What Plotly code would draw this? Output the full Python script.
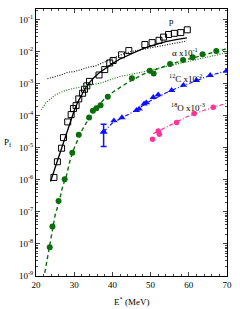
import plotly.graph_objects as go

# Proton data (open squares) and calculation (solid)
p_E = [24.7, 25.6, 26.7, 27.2, 28.3, 29.2, 29.8, 30.5, 31.2, 32.2, 32.7, 33.3, 34.0,
       36.5, 38.0, 39.3, 40.2, 42.4, 44.3, 48.5, 50.4, 52.2, 53.4, 54.7, 56.2, 57.9, 59.6]
p_P = [1.2e-6, 3.7e-6, 9.8e-6, 2.1e-5, 6.5e-5, 1.1e-4, 1.7e-4, 2.1e-4, 3.4e-4, 5.1e-4, 6.8e-4, 8.7e-4, 1.2e-3,
       1.9e-3, 2.8e-3, 4.5e-3, 5.4e-3, 8.1e-3, 1.1e-2, 1.7e-2, 1.95e-2, 2.3e-2, 2.9e-2, 3.5e-2, 3.8e-2, 4.0e-2, 4.9e-2]
pc_E = [23.8, 25, 26, 27, 28, 29, 30, 31, 32, 33, 34, 35, 36.5, 38, 40, 42, 45, 48, 51, 54, 57, 59.5]
pc_P = [8.9e-7, 2.4e-6, 6.0e-6, 1.38e-5, 3.2e-5, 7.1e-5, 1.48e-4, 2.8e-4, 4.8e-4, 7.6e-4, 1.1e-3, 1.5e-3,
        2.2e-3, 3.0e-3, 4.3e-3, 6.0e-3, 8.9e-3, 1.26e-2, 1.66e-2, 2.1e-2, 2.45e-2, 2.75e-2]
# black dotted calculation
pd_E = [23.0, 24.5, 26.2, 27.5, 28.5, 30, 31.4, 33, 34, 35.5, 36.7, 38.5, 40.1, 42, 44.5, 47, 49.8, 52, 55, 57, 59.5]
pd_P = [1.45e-3, 1.6e-3, 1.85e-3, 2.1e-3, 2.35e-3, 2.4e-3, 2.75e-3, 3.2e-3, 3.4e-3, 3.6e-3, 4.2e-3, 5.0e-3,
        6.5e-3, 7.9e-3, 1.0e-2, 1.15e-2, 1.32e-2, 1.48e-2, 1.78e-2, 1.95e-2, 2.2e-2]

# Alpha x10^-1
a_E = [23.6, 24.3, 25.9, 27.5, 29.5, 31.2, 33.9, 34.9, 35.8, 36.9, 38.8, 45.1, 49.8, 50.8, 55.1, 58.5, 61.0, 63.6, 67.2]
a_P = [7.9e-9, 3.5e-8, 2.2e-7, 1.05e-6, 7.1e-6, 2.6e-5, 8.9e-5, 1.45e-4, 1.75e-4, 2.15e-4, 4.0e-4,
       1.5e-3, 2.6e-3, 2.1e-3, 4.2e-3, 5.6e-3, 6.8e-3, 8.5e-3, 1.07e-2]
ac_E = [22.3, 23, 24, 25, 26, 27, 28, 29, 30, 31, 32, 34, 36, 38, 40, 44, 48, 52, 56, 60, 65, 70]
ac_P = [1.26e-9, 4e-9, 2e-8, 7.9e-8, 2e-7, 6.3e-7, 1.4e-6, 4.5e-6, 1e-5, 2e-5, 3.5e-5, 8.9e-5, 1.9e-4,
        3.5e-4, 5.4e-4, 1.1e-3, 2e-3, 3e-3, 4.4e-3, 6e-3, 8.7e-3, 1.26e-2]
ad_E = [21.4, 22.5, 23.5, 25, 27, 29, 31.4, 34, 36.7, 39, 42, 46, 50, 55, 60, 65, 70]
ad_P = [1.55e-4, 2.5e-4, 3.2e-4, 4.5e-4, 5.8e-4, 6.9e-4, 7.9e-4, 9.1e-4, 1.05e-3, 1.3e-3, 1.7e-3,
        2.1e-3, 2.7e-3, 3.6e-3, 5.0e-3, 7.1e-3, 9.5e-3]

# 12C x10^-2
c_E = [37.7, 40.4, 42.5, 46.3, 47.0, 48.3, 48.9, 50.7, 52.0, 55.5, 58.6, 62.0, 65.6, 69.8]
c_P = [3.2e-5, 7.1e-5, 8.9e-5, 1.5e-4, 1.66e-4, 2.4e-4, 2.6e-4, 3.8e-4, 4.6e-4, 6.3e-4, 9.1e-4, 1.29e-3, 1.86e-3, 2.5e-3]
c_err_E = [37.7]
c_err_P = [3.2e-5]
c_err_hi = [5.5e-5]
c_err_lo = [1.1e-5]
cc_E = [37.7, 40, 45, 50, 55, 60, 65, 70]
cc_P = [3.2e-5, 6.0e-5, 1.26e-4, 3.0e-4, 6.0e-4, 1.05e-3, 1.74e-3, 2.6e-3]

# 18O x10^-3
o_E = [50.5, 52.0, 52.3, 56.8, 61.4, 66.4]
o_P = [1.86e-5, 3.4e-5, 2.7e-5, 6.2e-5, 1.2e-4, 1.86e-4]
oc_E = [50.7, 53, 56, 60, 64, 67, 70]
oc_P = [2.8e-5, 3.8e-5, 5.8e-5, 1.0e-4, 1.5e-4, 1.9e-4, 2.5e-4]

ytick_exp = [-1, -2, -3, -4, -5, -6, -7, -8, -9]

BLACK = "#000000"
GREEN = "#0b6e0b"
BLUE = "#1010ff"
PINK = "#ff3399"
FONT = "Liberation Serif"

fig = go.Figure()
# proton
fig.add_trace(go.Scatter(x=pd_E, y=pd_P, mode="lines", line=dict(color=BLACK, width=1.1, dash="1px,1.5px")))
fig.add_trace(go.Scatter(x=pc_E, y=pc_P, mode="lines", line=dict(color=BLACK, width=1.3)))
fig.add_trace(go.Scatter(x=p_E, y=p_P, mode="markers",
                         marker=dict(symbol="square-open", size=6, color=BLACK, line=dict(width=1))))
# alpha
fig.add_trace(go.Scatter(x=ad_E, y=ad_P, mode="lines", line=dict(color=GREEN, width=1.1, dash="1px,1.5px")))
fig.add_trace(go.Scatter(x=ac_E, y=ac_P, mode="lines", line=dict(color=GREEN, width=1.4, dash="4px,3px")))
fig.add_trace(go.Scatter(x=a_E, y=a_P, mode="markers", marker=dict(symbol="circle", size=6, color=GREEN)))
# carbon
fig.add_trace(go.Scatter(x=cc_E, y=cc_P, mode="lines", line=dict(color=BLUE, width=1.2, dash="4px,2px,1px,2px")))
fig.add_trace(go.Scatter(x=c_E, y=c_P, mode="markers", marker=dict(symbol="triangle-up", size=6.5, color=BLUE)))
fig.add_trace(go.Scatter(x=c_err_E, y=c_err_P, mode="markers",
                         marker=dict(symbol="triangle-up", size=6.5, color=BLUE),
                         error_y=dict(type="data", symmetric=False,
                                      array=[h - c for h, c in zip(c_err_hi, c_err_P)],
                                      arrayminus=[c - l for l, c in zip(c_err_lo, c_err_P)],
                                      color=BLUE, thickness=1.5, width=3)))
# oxygen
fig.add_trace(go.Scatter(x=oc_E, y=oc_P, mode="lines", line=dict(color=PINK, width=1.2, dash="4px,2px,1px,2px")))
fig.add_trace(go.Scatter(x=o_E, y=o_P, mode="markers", marker=dict(symbol="circle", size=5.5, color=PINK)))

minor_vals = [m * 10 ** e for e in range(-9, 0) for m in range(2, 10)]

fig.update_layout(
    width=240, height=309,
    margin=dict(l=36, r=13, t=9, b=33, autoexpand=False),
    paper_bgcolor="white", plot_bgcolor="white",
    showlegend=False,
    font=dict(family=FONT, size=9, color=BLACK),
    xaxis=dict(range=[20, 70], dtick=10, tick0=20, ticks="inside", ticklen=4, tickwidth=0.8,
               showline=True, linecolor=BLACK, linewidth=1, mirror="ticks", showgrid=False, zeroline=False,
               minor=dict(dtick=2, ticks="inside", ticklen=2, tickwidth=0.8, showgrid=False),
               tickfont=dict(family=FONT, size=9)),
    yaxis=dict(type="log", range=[-9, -0.66], ticks="inside", ticklen=4, tickwidth=0.8,
               tickvals=[10 ** e for e in ytick_exp],
               ticktext=["10<sup>%d</sup>" % e for e in ytick_exp],
               showline=True, linecolor=BLACK, linewidth=1, mirror="ticks", showgrid=False, zeroline=False,
               minor=dict(tickvals=minor_vals, ticks="inside", ticklen=2, tickwidth=0.6, showgrid=False),
               tickfont=dict(family=FONT, size=9)),
)

ann = dict(showarrow=False, font=dict(family=FONT, size=9, color=BLACK))
fig.add_annotation(x=55.4, y=-1.05, text="p", xanchor="center", yanchor="middle", **ann)
fig.add_annotation(x=55.2, y=-2.0, text="α x10<sup>-1</sup>", xanchor="left", yanchor="middle", **ann)
fig.add_annotation(x=54.2, y=-2.81, text="<sup>12</sup>C x10<sup>-2</sup>", xanchor="left", yanchor="middle", **ann)
fig.add_annotation(x=54.7, y=-3.72, text="<sup>18</sup>O x10<sup>-3</sup>", xanchor="left", yanchor="middle", **ann)
fig.add_annotation(xref="paper", yref="paper", x=0.5, y=0, yshift=-17, text="E<sup>*</sup> (MeV)",
                   xanchor="center", yanchor="top", **ann)
fig.add_annotation(xref="paper", x=0, xshift=-28, y=-4.84, text="P<sub>f</sub>",
                   xanchor="center", yanchor="middle", **ann)

fig.write_html("out.html", config={"displayModeBar": False},
               post_script="document.body.style.margin='0px';document.body.style.overflow='hidden';")
